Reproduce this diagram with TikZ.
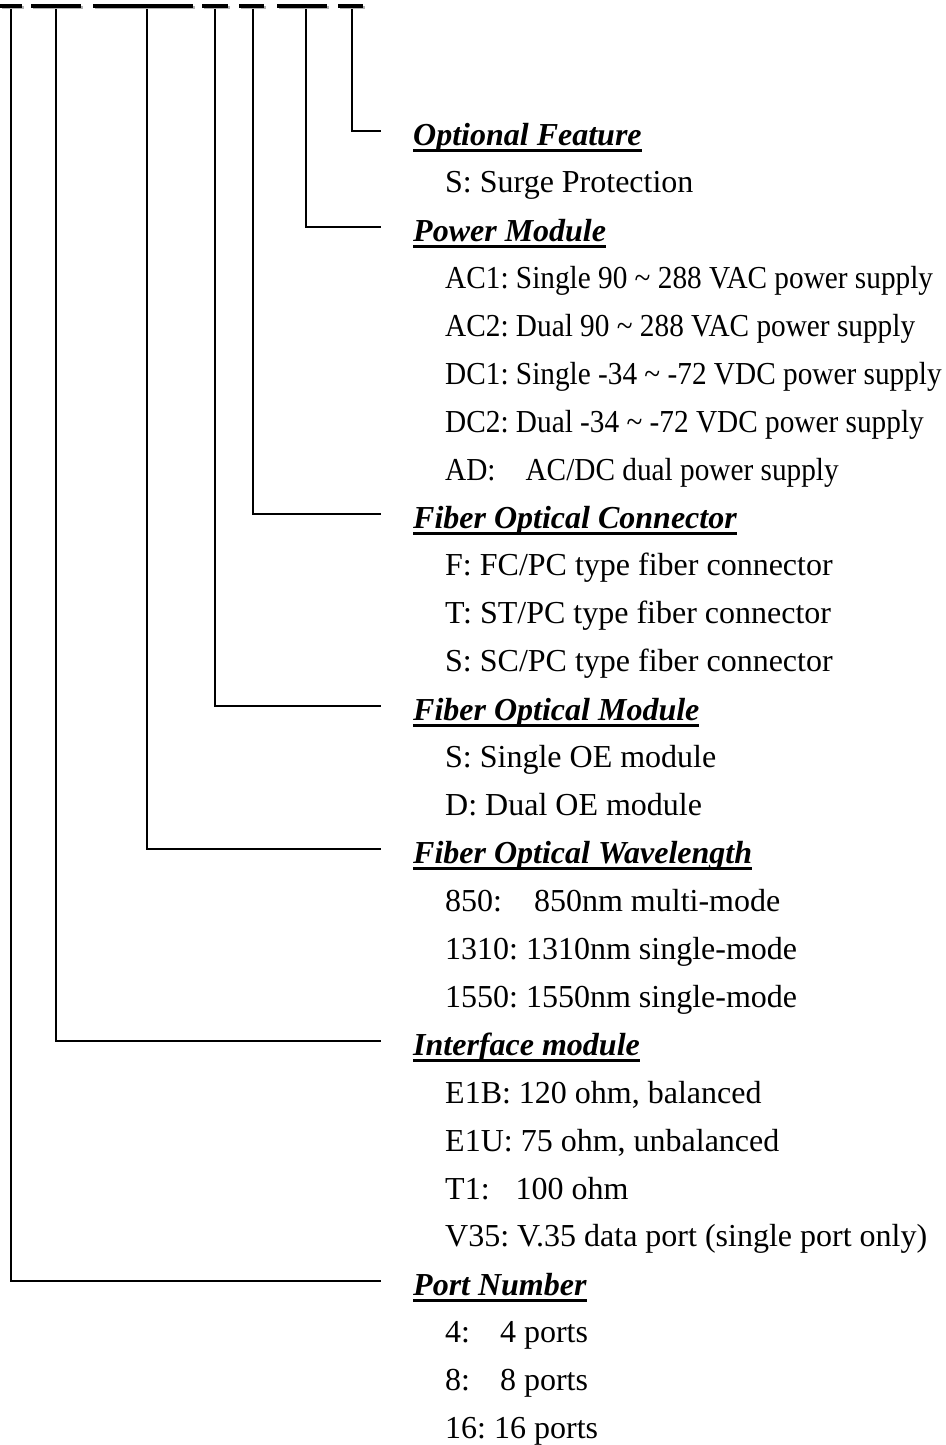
\documentclass[tikz,border=0pt]{standalone}
\usepackage{fontspec}
\setmainfont{Liberation Serif}
\newfontfamily\narrowserif[FakeStretch=0.915]{Liberation Serif}
\usepackage{tikz}
\usetikzlibrary{positioning}
\frenchspacing
\newsavebox\headbox
\newcommand\ulhead[1]{\sbox\headbox{#1}\rlap{\rule[-7pt]{\wd\headbox}{3.5pt}}\usebox\headbox}
\tikzset{
  heading/.style={anchor=west, inner sep=0pt, text height=28pt, text depth=0pt,
                  font=\fontsize{32}{32}\selectfont\bfseries\itshape},
  item/.style={anchor=base west, inner sep=0pt, font=\fontsize{32}{32}\selectfont},
  narrowitem/.style={item, font=\fontsize{32}{32}\narrowserif},
  leader/.style={line width=2.6pt, line join=miter},
  topbar/.style={line width=3.5pt},
  barshadow/.style={line width=3.5pt, gray!60}
}
\begin{document}
\begin{tikzpicture}[x=1pt, y=-1pt]
\useasboundingbox (0,0) rectangle (945,1445);

% Cut-off code bars (top edge)
\foreach \a/\b in {0/22, 31/81, 93/193, 202/228, 239/264, 277/327, 338/363} {
  \draw[barshadow] (\a+1.5,7.5) -- (\b+1.5,7.5);
  \draw[topbar] (\a,6) -- (\b,6);
}

% Field positions
\coordinate (portpos) at (11,9);
\coordinate (ifpos) at (56,9);
\coordinate (wavepos) at (147,9);
\coordinate (modpos) at (215,9);
\coordinate (connpos) at (253,9);
\coordinate (powpos) at (306,9);
\coordinate (optpos) at (352,9);

% Headings
\node[heading] (opt) at (413,131) {\ulhead{Optional Feature}};
\node[heading] (pow) at (413,227) {\ulhead{Power Module}};
\node[heading] (conn) at (413,514) {\ulhead{Fiber Optical Connector}};
\node[heading] (mod) at (413,706) {\ulhead{Fiber Optical Module}};
\node[heading] (wave) at (413,849) {\ulhead{Fiber Optical Wavelength}};
\node[heading] (iface) at (413,1041) {\ulhead{Interface module}};
\node[heading] (port) at (413,1281) {\ulhead{Port Number}};

% Options
\node[item] (o1) at (445,192) {S: Surge Protection};
\node[narrowitem] (p1) at (445,288) {AC1: Single 90 \char`\~{} 288 VAC power supply};
\node[narrowitem] (p2) at (445,336) {AC2: Dual 90 \char`\~{} 288 VAC power supply};
\node[narrowitem] (p3) at (445,384) {DC1: Single -34 \char`\~{} -72 VDC power supply};
\node[narrowitem] (p4) at (445,432) {DC2: Dual -34 \char`\~{} -72 VDC power supply};
\node[narrowitem] (p5) at (445,480) {AD:\hspace{30pt}AC/DC dual power supply};
\node[item] (c1) at (445,575) {F: FC/PC type fiber connector};
\node[item] (c2) at (445,623) {T: ST/PC type fiber connector};
\node[item] (c3) at (445,671) {S: SC/PC type fiber connector};
\node[item] (m1) at (445,767) {S: Single OE module};
\node[item] (m2) at (445,815) {D: Dual OE module};
\node[item] (w1) at (445,911) {850:\hspace{32pt}850nm multi-mode};
\node[item] (w2) at (445,959) {1310: 1310nm single-mode};
\node[item] (w3) at (445,1007) {1550: 1550nm single-mode};
\node[item] (i1) at (445,1103) {E1B: 120 ohm, balanced};
\node[item] (i2) at (445,1151) {E1U: 75 ohm, unbalanced};
\node[item] (i3) at (445,1199) {T1:\hspace{26pt}100 ohm};
\node[item] (i4) at (445,1246) {V35: V.35 data port (single port only)};
\node[item] (n1) at (445,1342) {4:\hspace{30pt}4 ports};
\node[item] (n2) at (445,1390) {8:\hspace{30pt}8 ports};
\node[item] (n3) at (445,1438) {16: 16 ports};

% Leaders
\draw[leader] (optpos) |- ([xshift=-32pt]opt.west);
\draw[leader] (powpos) |- ([xshift=-32pt]pow.west);
\draw[leader] (connpos) |- ([xshift=-32pt]conn.west);
\draw[leader] (modpos) |- ([xshift=-32pt]mod.west);
\draw[leader] (wavepos) |- ([xshift=-32pt]wave.west);
\draw[leader] (ifpos) |- ([xshift=-32pt]iface.west);
\draw[leader] (portpos) |- ([xshift=-32pt]port.west);

\end{tikzpicture}
\end{document}
